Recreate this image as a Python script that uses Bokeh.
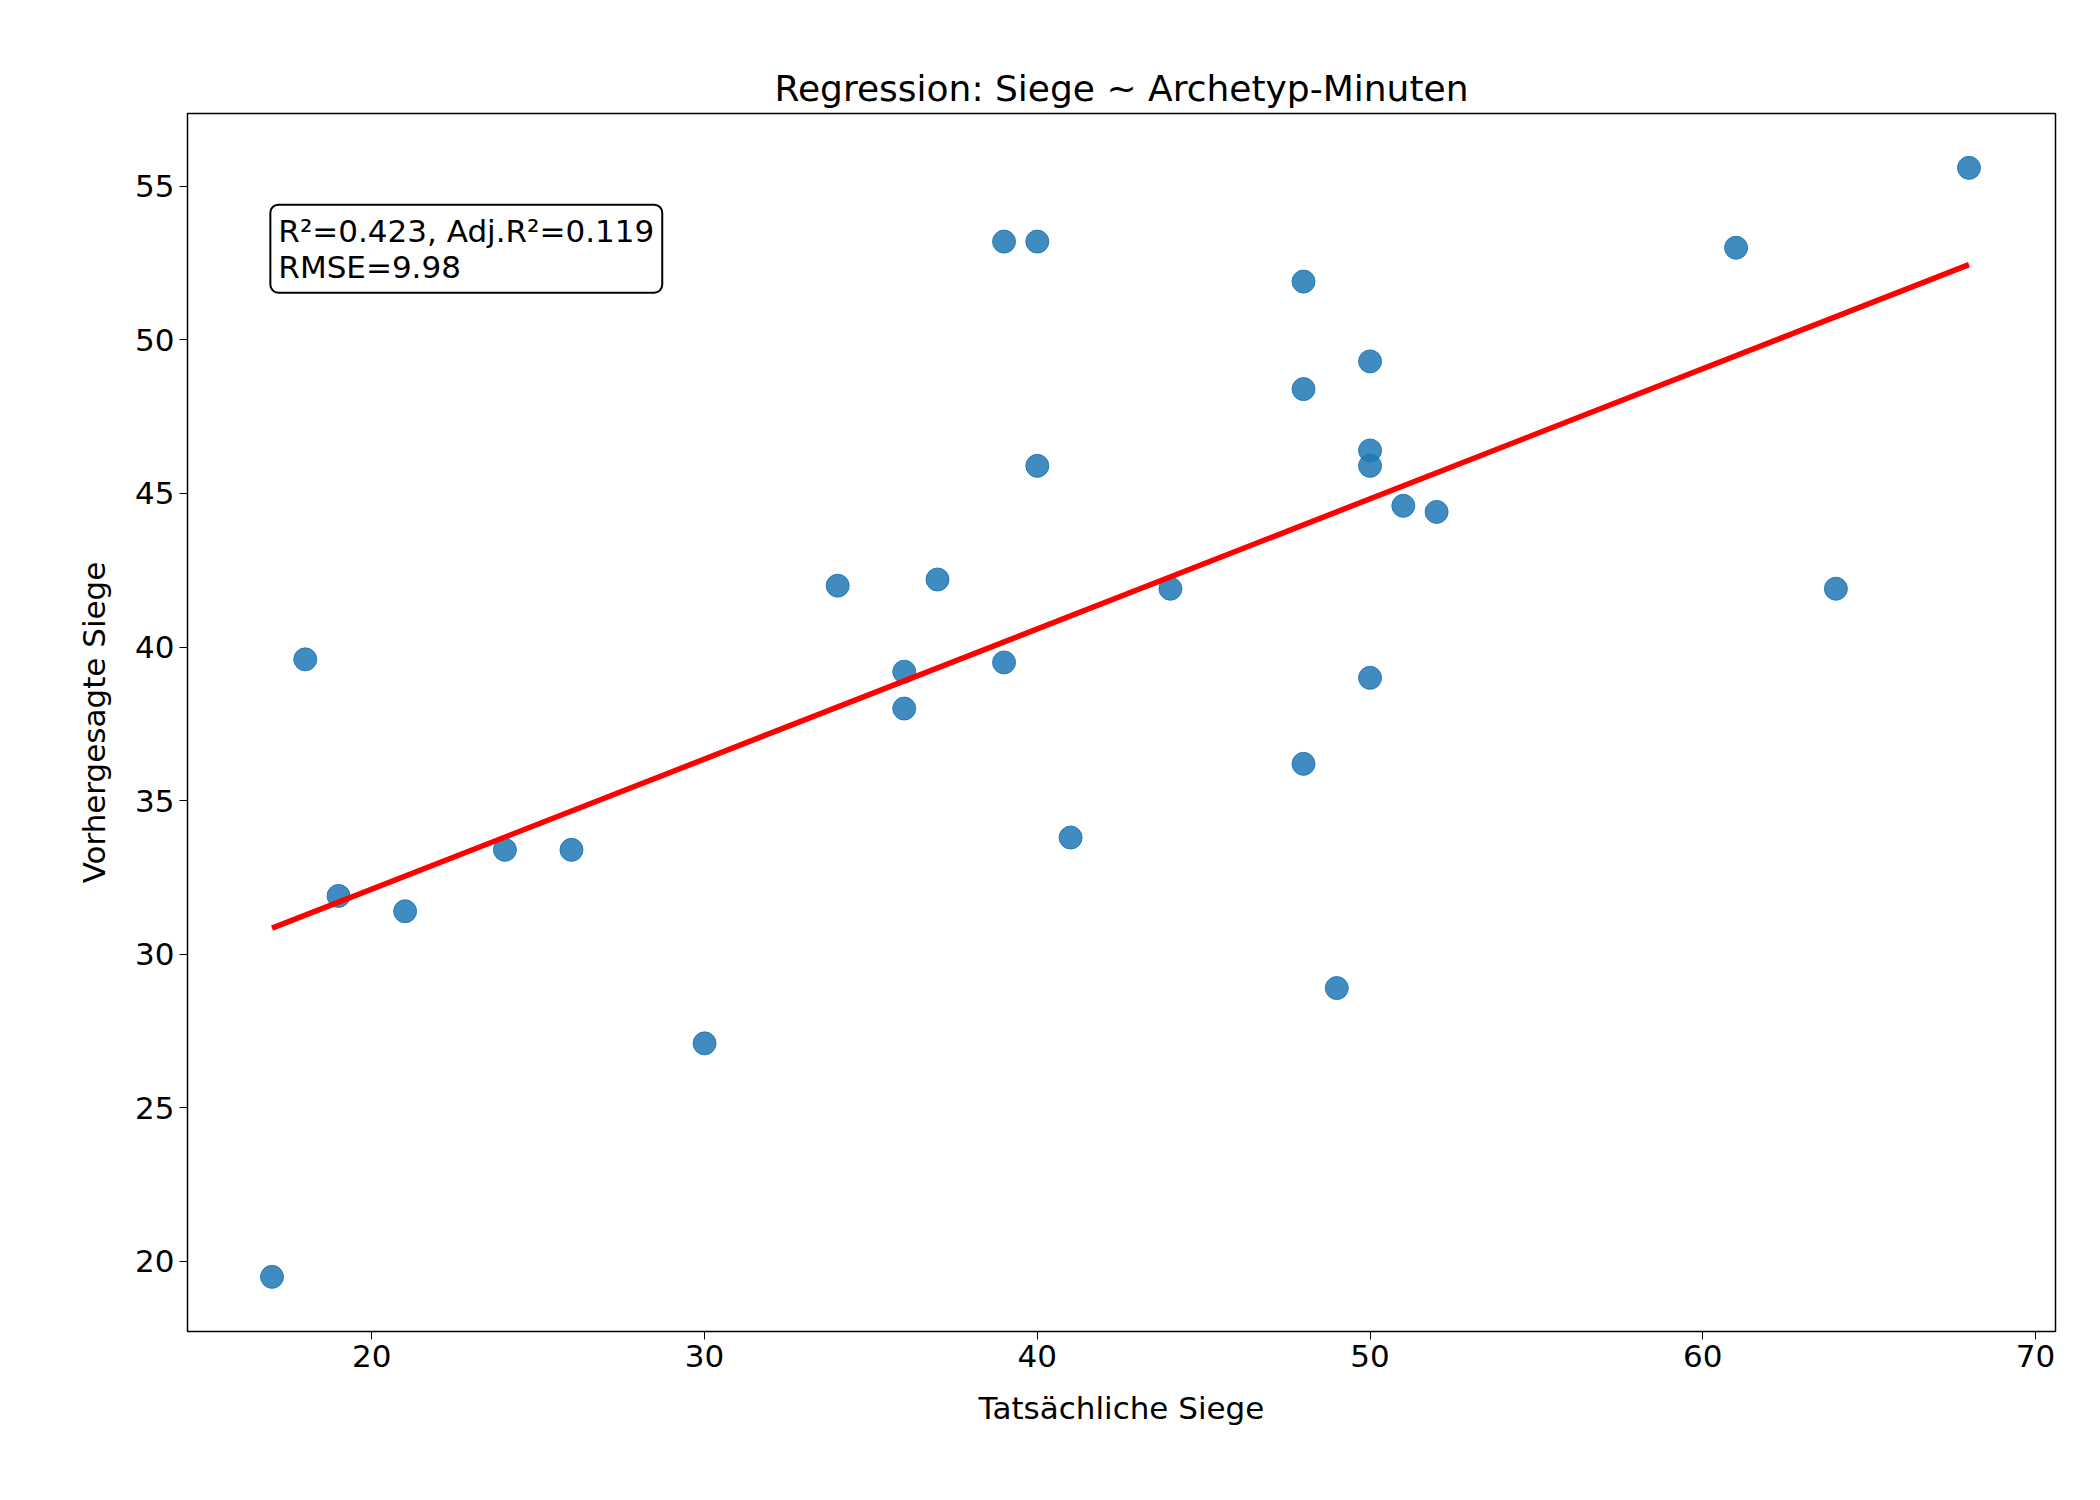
from bokeh.plotting import figure
from bokeh.models import Label, Range1d
from bokeh.embed import file_html
from bokeh.resources import INLINE

actual = [17, 18, 19, 21, 24, 26, 30, 34, 36, 36, 37, 39, 39, 40, 40, 41, 44, 48, 48, 48, 49, 50, 50, 50, 50, 51, 52, 61, 64, 68]
predicted = [19.5, 39.6, 31.9, 31.4, 33.4, 33.4, 27.1, 42.0, 39.2, 38.0, 42.2, 53.2, 39.5, 53.2, 45.9, 33.8, 41.9, 51.9, 48.4, 36.2, 28.9, 49.3, 46.4, 45.9, 39.0, 44.6, 44.4, 53.0, 41.9, 55.6]
fit_x = [17, 68]
fit_y = [30.85, 52.45]

FONT = "DejaVu Sans"
p = figure(width=2084, height=1480, output_backend="svg", toolbar_location=None,
           x_range=Range1d(14.46, 70.6), y_range=Range1d(17.72, 57.37),
           min_border_left=187, min_border_right=29, min_border_top=113, min_border_bottom=149)
p.title.text = "Regression: Siege ~ Archetyp-Minuten"
p.title.align = "center"
p.title.text_font = FONT
p.title.text_font_size = "36px"
p.title.text_font_style = "normal"
p.title.text_color = "black"
p.title.standoff = 10
p.xgrid.visible = False
p.ygrid.visible = False
p.outline_line_color = "black"
p.outline_line_width = 1.5
for ax in (p.xaxis, p.yaxis):
    ax.major_label_text_font = FONT
    ax.major_label_text_font_size = "31px"
    ax.major_label_text_color = "black"
    ax.axis_label_text_font = FONT
    ax.axis_label_text_font_size = "31px"
    ax.axis_label_text_color = "black"
    ax.axis_label_text_font_style = "normal"
    ax.minor_tick_line_color = None
    ax.major_tick_out = 8
    ax.major_tick_in = 0
    ax.major_tick_line_color = "black"
    ax.axis_line_color = None
p.xaxis.axis_label = "Tatsächliche Siege"
p.yaxis.axis_label = "Vorhergesagte Siege"
p.xaxis.axis_label_standoff = 20
p.yaxis.axis_label_standoff = 20
p.xaxis.ticker = [20, 30, 40, 50, 60, 70]
p.yaxis.ticker = [20, 25, 30, 35, 40, 45, 50, 55]

p.scatter(actual, predicted, size=23, fill_color="#1f77b4", fill_alpha=0.85,
          line_color="#1f77b4", line_alpha=0.9)
p.line(fit_x, fit_y, line_color="red", line_width=5.5)

p.add_layout(Label(x=16.95, y=54.4, text="R²=0.423, Adj.R²=0.119\nRMSE=9.98",
                   text_font=FONT, text_font_size="31px", text_color="black",
                   anchor="top_left", text_line_height=1.0,
                   border_line_color="black", border_line_width=2,
                   background_fill_color="white", padding=8, border_radius=8))

open("out.html", "w").write(file_html(p, INLINE))
